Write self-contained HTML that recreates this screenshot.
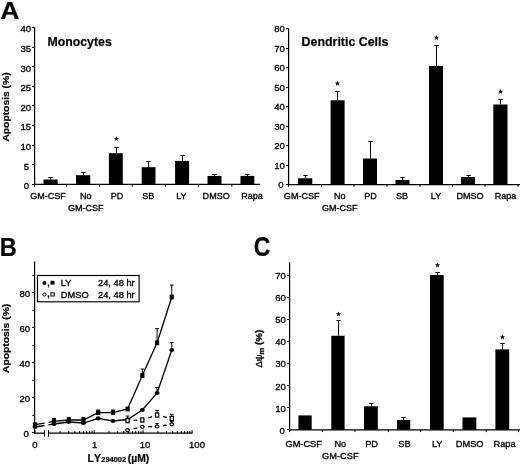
<!DOCTYPE html>
<html><head><meta charset="utf-8"><title>Figure</title>
<style>html,body{margin:0;padding:0;background:#fff;}svg{display:block;}text{font-family:"Liberation Sans",sans-serif;fill:#000;stroke:#000;stroke-width:0.32px;}text[font-weight=bold]{stroke-width:0.2px;}</style>
</head><body>
<svg width="520" height="465" viewBox="0 0 520 465">
<defs><filter id="soft" x="0" y="0" width="100%" height="100%" filterUnits="userSpaceOnUse"><feGaussianBlur stdDeviation="0.32"/></filter></defs>
<rect x="0" y="0" width="520" height="465" fill="#fff"/>
<g filter="url(#soft)">
<text transform="translate(0.2,18.5) scale(1.07,1)" font-size="24.8" font-weight="bold">A</text>
<line x1="34.6" y1="27.4" x2="34.6" y2="186.3" stroke="#000" stroke-width="1.2" />
<line x1="34.0" y1="184.3" x2="260" y2="184.3" stroke="#000" stroke-width="1.3" />
<line x1="32.1" y1="184.5" x2="34.5" y2="184.5" stroke="#000" stroke-width="1" />
<text x="29.2" y="189.10000000000002" font-size="9.6" text-anchor="end" font-weight="normal" >0</text>
<line x1="32.1" y1="164.5" x2="34.5" y2="164.5" stroke="#000" stroke-width="1" />
<text x="29.2" y="169.50000000000003" font-size="9.6" text-anchor="end" font-weight="normal" >5</text>
<line x1="32.1" y1="145.5" x2="34.5" y2="145.5" stroke="#000" stroke-width="1" />
<text x="31.2" y="149.90000000000003" font-size="9.6" text-anchor="end" font-weight="normal" >10</text>
<line x1="32.1" y1="125.5" x2="34.5" y2="125.5" stroke="#000" stroke-width="1" />
<text x="31.2" y="130.3" font-size="9.6" text-anchor="end" font-weight="normal" >15</text>
<line x1="32.1" y1="105.5" x2="34.5" y2="105.5" stroke="#000" stroke-width="1" />
<text x="31.2" y="110.7" font-size="9.6" text-anchor="end" font-weight="normal" >20</text>
<line x1="32.1" y1="86.5" x2="34.5" y2="86.5" stroke="#000" stroke-width="1" />
<text x="31.2" y="91.10000000000001" font-size="9.6" text-anchor="end" font-weight="normal" >25</text>
<line x1="32.1" y1="66.5" x2="34.5" y2="66.5" stroke="#000" stroke-width="1" />
<text x="31.2" y="71.5" font-size="9.6" text-anchor="end" font-weight="normal" >30</text>
<line x1="32.1" y1="47.5" x2="34.5" y2="47.5" stroke="#000" stroke-width="1" />
<text x="31.2" y="51.89999999999999" font-size="9.6" text-anchor="end" font-weight="normal" >35</text>
<line x1="32.1" y1="27.5" x2="34.5" y2="27.5" stroke="#000" stroke-width="1" />
<text x="31.2" y="32.3" font-size="9.6" text-anchor="end" font-weight="normal" >40</text>
<line x1="34.5" y1="184.3" x2="34.5" y2="186.60000000000002" stroke="#000" stroke-width="1" />
<line x1="66.7" y1="184.3" x2="66.7" y2="186.60000000000002" stroke="#000" stroke-width="1" />
<line x1="99.4" y1="184.3" x2="99.4" y2="186.60000000000002" stroke="#000" stroke-width="1" />
<line x1="132.2" y1="184.3" x2="132.2" y2="186.60000000000002" stroke="#000" stroke-width="1" />
<line x1="165.3" y1="184.3" x2="165.3" y2="186.60000000000002" stroke="#000" stroke-width="1" />
<line x1="198.5" y1="184.3" x2="198.5" y2="186.60000000000002" stroke="#000" stroke-width="1" />
<line x1="231.8" y1="184.3" x2="231.8" y2="186.60000000000002" stroke="#000" stroke-width="1" />
<rect x="43.5" y="179.5" width="14.100000000000001" height="4.800000000000011" fill="#000" />
<line x1="50.5" y1="177.5" x2="50.5" y2="179.5" stroke="#000" stroke-width="1" />
<line x1="48.3" y1="177.5" x2="52.7" y2="177.5" stroke="#000" stroke-width="1" />
<rect x="76" y="175.2" width="14.200000000000003" height="9.100000000000023" fill="#000" />
<line x1="83.5" y1="172.5" x2="83.5" y2="175.2" stroke="#000" stroke-width="1" />
<line x1="81.3" y1="172.5" x2="85.7" y2="172.5" stroke="#000" stroke-width="1" />
<rect x="108.9" y="153.2" width="13.899999999999991" height="31.100000000000023" fill="#000" />
<line x1="116.5" y1="147.5" x2="116.5" y2="153.2" stroke="#000" stroke-width="1" />
<line x1="114.3" y1="147.5" x2="118.7" y2="147.5" stroke="#000" stroke-width="1" />
<polygon points="116.50,136.10 117.18,137.87 119.07,137.97 117.59,139.16 118.09,140.98 116.50,139.95 114.91,140.98 115.41,139.16 113.93,137.97 115.82,137.87" fill="#000"/>
<rect x="141.7" y="167.2" width="13.800000000000011" height="17.100000000000023" fill="#000" />
<line x1="148.5" y1="161.5" x2="148.5" y2="167.2" stroke="#000" stroke-width="1" />
<line x1="146.3" y1="161.5" x2="150.7" y2="161.5" stroke="#000" stroke-width="1" />
<rect x="175.1" y="160.9" width="14.0" height="23.400000000000006" fill="#000" />
<line x1="182.5" y1="155.5" x2="182.5" y2="160.9" stroke="#000" stroke-width="1" />
<line x1="180.3" y1="155.5" x2="184.7" y2="155.5" stroke="#000" stroke-width="1" />
<rect x="207.5" y="175.9" width="14.0" height="8.400000000000006" fill="#000" />
<line x1="214.5" y1="174.5" x2="214.5" y2="175.9" stroke="#000" stroke-width="1" />
<line x1="212.3" y1="174.5" x2="216.7" y2="174.5" stroke="#000" stroke-width="1" />
<rect x="240.5" y="175.9" width="13.800000000000011" height="8.400000000000006" fill="#000" />
<line x1="247.5" y1="174.5" x2="247.5" y2="175.9" stroke="#000" stroke-width="1" />
<line x1="245.3" y1="174.5" x2="249.7" y2="174.5" stroke="#000" stroke-width="1" />
<text x="48" y="199" font-size="9.05" text-anchor="middle" font-weight="normal" >GM-CSF</text>
<text x="85.8" y="199" font-size="9.05" text-anchor="middle" font-weight="normal" >No</text>
<text x="85.8" y="210.8" font-size="9.05" text-anchor="middle" font-weight="normal" >GM-CSF</text>
<text x="117" y="199" font-size="9.05" text-anchor="middle" font-weight="normal" >PD</text>
<text x="148.3" y="199" font-size="9.05" text-anchor="middle" font-weight="normal" >SB</text>
<text x="181.4" y="199" font-size="9.05" text-anchor="middle" font-weight="normal" >LY</text>
<text x="216.2" y="199" font-size="9.05" text-anchor="middle" font-weight="normal" >DMSO</text>
<text x="252" y="199" font-size="9.05" text-anchor="middle" font-weight="normal" >Rapa</text>
<text x="47.5" y="45.6" font-size="12.3" text-anchor="start" font-weight="bold" >Monocytes</text>
<text transform="translate(9.4,107) rotate(-90) scale(1.214,1)" font-size="8.5" text-anchor="middle" font-weight="bold">Apoptosis (%)</text>
<line x1="288.6" y1="28.6" x2="288.6" y2="186.6" stroke="#000" stroke-width="1.2" />
<line x1="288.0" y1="184.6" x2="520" y2="184.6" stroke="#000" stroke-width="1.3" />
<line x1="286.1" y1="184.5" x2="288.5" y2="184.5" stroke="#000" stroke-width="1" />
<text x="283.5" y="188.2" font-size="9.6" text-anchor="end" font-weight="normal" >0</text>
<line x1="286.1" y1="165.5" x2="288.5" y2="165.5" stroke="#000" stroke-width="1" />
<text x="284.8" y="168.7" font-size="9.6" text-anchor="end" font-weight="normal" >10</text>
<line x1="286.1" y1="145.5" x2="288.5" y2="145.5" stroke="#000" stroke-width="1" />
<text x="284.8" y="149.2" font-size="9.6" text-anchor="end" font-weight="normal" >20</text>
<line x1="286.1" y1="126.5" x2="288.5" y2="126.5" stroke="#000" stroke-width="1" />
<text x="284.8" y="129.7" font-size="9.6" text-anchor="end" font-weight="normal" >30</text>
<line x1="286.1" y1="106.5" x2="288.5" y2="106.5" stroke="#000" stroke-width="1" />
<text x="284.8" y="110.19999999999999" font-size="9.6" text-anchor="end" font-weight="normal" >40</text>
<line x1="286.1" y1="87.5" x2="288.5" y2="87.5" stroke="#000" stroke-width="1" />
<text x="284.8" y="90.69999999999999" font-size="9.6" text-anchor="end" font-weight="normal" >50</text>
<line x1="286.1" y1="67.5" x2="288.5" y2="67.5" stroke="#000" stroke-width="1" />
<text x="284.8" y="71.19999999999999" font-size="9.6" text-anchor="end" font-weight="normal" >60</text>
<line x1="286.1" y1="48.5" x2="288.5" y2="48.5" stroke="#000" stroke-width="1" />
<text x="284.8" y="51.699999999999996" font-size="9.6" text-anchor="end" font-weight="normal" >70</text>
<line x1="286.1" y1="28.5" x2="288.5" y2="28.5" stroke="#000" stroke-width="1" />
<text x="284.8" y="32.199999999999996" font-size="9.6" text-anchor="end" font-weight="normal" >80</text>
<line x1="288.5" y1="184.6" x2="288.5" y2="186.9" stroke="#000" stroke-width="1" />
<line x1="321.5" y1="184.6" x2="321.5" y2="186.9" stroke="#000" stroke-width="1" />
<line x1="354" y1="184.6" x2="354" y2="186.9" stroke="#000" stroke-width="1" />
<line x1="387" y1="184.6" x2="387" y2="186.9" stroke="#000" stroke-width="1" />
<line x1="420" y1="184.6" x2="420" y2="186.9" stroke="#000" stroke-width="1" />
<line x1="452.5" y1="184.6" x2="452.5" y2="186.9" stroke="#000" stroke-width="1" />
<line x1="485" y1="184.6" x2="485" y2="186.9" stroke="#000" stroke-width="1" />
<line x1="518" y1="184.6" x2="518" y2="186.9" stroke="#000" stroke-width="1" />
<rect x="298" y="178.3" width="14.300000000000011" height="6.299999999999983" fill="#000" />
<line x1="305.5" y1="175.5" x2="305.5" y2="178.3" stroke="#000" stroke-width="1" />
<line x1="303.3" y1="175.5" x2="307.7" y2="175.5" stroke="#000" stroke-width="1" />
<rect x="330.6" y="100.3" width="14.0" height="84.3" fill="#000" />
<line x1="337.5" y1="91.5" x2="337.5" y2="100.3" stroke="#000" stroke-width="1" />
<line x1="335.3" y1="91.5" x2="339.7" y2="91.5" stroke="#000" stroke-width="1" />
<polygon points="337.50,80.80 338.18,82.57 340.07,82.67 338.59,83.86 339.09,85.68 337.50,84.65 335.91,85.68 336.41,83.86 334.93,82.67 336.82,82.57" fill="#000"/>
<rect x="363" y="158.5" width="14" height="26.099999999999994" fill="#000" />
<line x1="370.5" y1="141.5" x2="370.5" y2="158.5" stroke="#000" stroke-width="1" />
<line x1="368.3" y1="141.5" x2="372.7" y2="141.5" stroke="#000" stroke-width="1" />
<rect x="395.5" y="180" width="14.0" height="4.599999999999994" fill="#000" />
<line x1="402.5" y1="177.5" x2="402.5" y2="180" stroke="#000" stroke-width="1" />
<line x1="400.3" y1="177.5" x2="404.7" y2="177.5" stroke="#000" stroke-width="1" />
<rect x="429" y="66" width="14" height="118.6" fill="#000" />
<line x1="436.5" y1="45.5" x2="436.5" y2="66" stroke="#000" stroke-width="1" />
<line x1="434.3" y1="45.5" x2="438.7" y2="45.5" stroke="#000" stroke-width="1" />
<polygon points="436.50,35.00 437.18,36.77 439.07,36.87 437.59,38.06 438.09,39.88 436.50,38.85 434.91,39.88 435.41,38.06 433.93,36.87 435.82,36.77" fill="#000"/>
<rect x="461" y="177" width="14" height="7.599999999999994" fill="#000" />
<line x1="468.5" y1="175.5" x2="468.5" y2="177" stroke="#000" stroke-width="1" />
<line x1="466.3" y1="175.5" x2="470.7" y2="175.5" stroke="#000" stroke-width="1" />
<rect x="493.3" y="104.5" width="14.199999999999989" height="80.1" fill="#000" />
<line x1="500.5" y1="99.5" x2="500.5" y2="104.5" stroke="#000" stroke-width="1" />
<line x1="498.3" y1="99.5" x2="502.7" y2="99.5" stroke="#000" stroke-width="1" />
<polygon points="500.50,89.00 501.18,90.77 503.07,90.87 501.59,92.06 502.09,93.88 500.50,92.85 498.91,93.88 499.41,92.06 497.93,90.87 499.82,90.77" fill="#000"/>
<text x="301.7" y="199" font-size="9.05" text-anchor="middle" font-weight="normal" >GM-CSF</text>
<text x="339.8" y="199" font-size="9.05" text-anchor="middle" font-weight="normal" >No</text>
<text x="339.8" y="210.8" font-size="9.05" text-anchor="middle" font-weight="normal" >GM-CSF</text>
<text x="370.6" y="199" font-size="9.05" text-anchor="middle" font-weight="normal" >PD</text>
<text x="402" y="199" font-size="9.05" text-anchor="middle" font-weight="normal" >SB</text>
<text x="436" y="199" font-size="9.05" text-anchor="middle" font-weight="normal" >LY</text>
<text x="470" y="199" font-size="9.05" text-anchor="middle" font-weight="normal" >DMSO</text>
<text x="505.5" y="199" font-size="9.05" text-anchor="middle" font-weight="normal" >Rapa</text>
<text x="301.6" y="45.5" font-size="12.4" text-anchor="start" font-weight="bold" >Dendritic Cells</text>
<text transform="translate(253.8,255.9) scale(0.9,1.05)" font-size="25.5" font-weight="bold">C</text>
<line x1="289.6" y1="262.2" x2="289.6" y2="431.8" stroke="#000" stroke-width="1.2" />
<line x1="289.0" y1="429.8" x2="520" y2="429.8" stroke="#000" stroke-width="1.3" />
<line x1="287.1" y1="429.5" x2="289.5" y2="429.5" stroke="#000" stroke-width="1" />
<text x="284.8" y="433.6" font-size="9.6" text-anchor="end" font-weight="normal" >0</text>
<line x1="287.1" y1="407.5" x2="289.5" y2="407.5" stroke="#000" stroke-width="1" />
<text x="285.8" y="411.55" font-size="9.6" text-anchor="end" font-weight="normal" >10</text>
<line x1="287.1" y1="385.5" x2="289.5" y2="385.5" stroke="#000" stroke-width="1" />
<text x="285.8" y="389.5" font-size="9.6" text-anchor="end" font-weight="normal" >20</text>
<line x1="287.1" y1="363.5" x2="289.5" y2="363.5" stroke="#000" stroke-width="1" />
<text x="285.8" y="367.45" font-size="9.6" text-anchor="end" font-weight="normal" >30</text>
<line x1="287.1" y1="341.5" x2="289.5" y2="341.5" stroke="#000" stroke-width="1" />
<text x="285.8" y="345.40000000000003" font-size="9.6" text-anchor="end" font-weight="normal" >40</text>
<line x1="287.1" y1="319.5" x2="289.5" y2="319.5" stroke="#000" stroke-width="1" />
<text x="285.8" y="323.35" font-size="9.6" text-anchor="end" font-weight="normal" >50</text>
<line x1="287.1" y1="297.5" x2="289.5" y2="297.5" stroke="#000" stroke-width="1" />
<text x="285.8" y="301.3" font-size="9.6" text-anchor="end" font-weight="normal" >60</text>
<line x1="287.1" y1="275.5" x2="289.5" y2="275.5" stroke="#000" stroke-width="1" />
<text x="285.8" y="279.25000000000006" font-size="9.6" text-anchor="end" font-weight="normal" >70</text>
<line x1="289.5" y1="429.8" x2="289.5" y2="432.1" stroke="#000" stroke-width="1" />
<line x1="322.3" y1="429.8" x2="322.3" y2="432.1" stroke="#000" stroke-width="1" />
<line x1="355" y1="429.8" x2="355" y2="432.1" stroke="#000" stroke-width="1" />
<line x1="388.3" y1="429.8" x2="388.3" y2="432.1" stroke="#000" stroke-width="1" />
<line x1="420.6" y1="429.8" x2="420.6" y2="432.1" stroke="#000" stroke-width="1" />
<line x1="453.2" y1="429.8" x2="453.2" y2="432.1" stroke="#000" stroke-width="1" />
<line x1="486.2" y1="429.8" x2="486.2" y2="432.1" stroke="#000" stroke-width="1" />
<line x1="518.5" y1="429.8" x2="518.5" y2="432.1" stroke="#000" stroke-width="1" />
<rect x="298.4" y="415.4" width="13.300000000000011" height="14.400000000000034" fill="#000" />
<rect x="331.3" y="335.75" width="13.300000000000011" height="94.05000000000001" fill="#000" />
<line x1="338.5" y1="320.5" x2="338.5" y2="335.75" stroke="#000" stroke-width="1" />
<line x1="336.3" y1="320.5" x2="340.7" y2="320.5" stroke="#000" stroke-width="1" />
<polygon points="338.50,311.50 339.18,313.27 341.07,313.37 339.59,314.56 340.09,316.38 338.50,315.35 336.91,316.38 337.41,314.56 335.93,313.37 337.82,313.27" fill="#000"/>
<rect x="364" y="406.3" width="13.800000000000011" height="23.5" fill="#000" />
<line x1="371.5" y1="403.5" x2="371.5" y2="406.3" stroke="#000" stroke-width="1" />
<line x1="369.3" y1="403.5" x2="373.7" y2="403.5" stroke="#000" stroke-width="1" />
<rect x="397" y="420" width="13.199999999999989" height="9.800000000000011" fill="#000" />
<line x1="403.5" y1="417.5" x2="403.5" y2="420" stroke="#000" stroke-width="1" />
<line x1="401.3" y1="417.5" x2="405.7" y2="417.5" stroke="#000" stroke-width="1" />
<rect x="430" y="275" width="13.699999999999989" height="154.8" fill="#000" />
<line x1="437.5" y1="272.5" x2="437.5" y2="275" stroke="#000" stroke-width="1" />
<line x1="435.3" y1="272.5" x2="439.7" y2="272.5" stroke="#000" stroke-width="1" />
<polygon points="437.50,262.50 438.18,264.27 440.07,264.37 438.59,265.56 439.09,267.38 437.50,266.35 435.91,267.38 436.41,265.56 434.93,264.37 436.82,264.27" fill="#000"/>
<rect x="462.5" y="417.4" width="13.800000000000011" height="12.400000000000034" fill="#000" />
<rect x="495.4" y="349.4" width="13.800000000000011" height="80.40000000000003" fill="#000" />
<line x1="502.5" y1="343.5" x2="502.5" y2="349.4" stroke="#000" stroke-width="1" />
<line x1="500.3" y1="343.5" x2="504.7" y2="343.5" stroke="#000" stroke-width="1" />
<polygon points="502.50,334.50 503.18,336.27 505.07,336.37 503.59,337.56 504.09,339.38 502.50,338.35 500.91,339.38 501.41,337.56 499.93,336.37 501.82,336.27" fill="#000"/>
<text x="303.7" y="447.1" font-size="9.25" text-anchor="middle" font-weight="normal" >GM-CSF</text>
<text x="340.3" y="447.1" font-size="9.25" text-anchor="middle" font-weight="normal" >No</text>
<text x="340.3" y="459.1" font-size="9.25" text-anchor="middle" font-weight="normal" >GM-CSF</text>
<text x="371.6" y="447.1" font-size="9.25" text-anchor="middle" font-weight="normal" >PD</text>
<text x="404.5" y="447.1" font-size="9.25" text-anchor="middle" font-weight="normal" >SB</text>
<text x="437.2" y="447.1" font-size="9.25" text-anchor="middle" font-weight="normal" >LY</text>
<text x="469.7" y="447.1" font-size="9.25" text-anchor="middle" font-weight="normal" >DMSO</text>
<text x="504.6" y="447.1" font-size="9.25" text-anchor="middle" font-weight="normal" >Rapa</text>
<text transform="translate(261.6,348.7) rotate(-90)" font-size="9.5" text-anchor="middle">&#916;&#968;<tspan font-size="7.5" dy="2.2" font-weight="bold">m</tspan><tspan dy="-2.2" font-weight="bold" font-size="9.8"> (%)</tspan></text>
<text transform="translate(-0.2,255.8) scale(0.925,1.035)" font-size="25.5" font-weight="bold">B</text>
<line x1="34.6" y1="261.5" x2="34.6" y2="433.7" stroke="#000" stroke-width="1.2" />
<line x1="32.1" y1="432.5" x2="34.5" y2="432.5" stroke="#000" stroke-width="1" />
<text x="28.900000000000002" y="437.1" font-size="9.6" text-anchor="end" font-weight="normal" >0</text>
<line x1="32.3" y1="415.5" x2="34.5" y2="415.5" stroke="#000" stroke-width="1" />
<line x1="32.1" y1="397.5" x2="34.5" y2="397.5" stroke="#000" stroke-width="1" />
<text x="30.1" y="402.175" font-size="9.6" text-anchor="end" font-weight="normal" >20</text>
<line x1="32.3" y1="380.5" x2="34.5" y2="380.5" stroke="#000" stroke-width="1" />
<line x1="32.1" y1="362.5" x2="34.5" y2="362.5" stroke="#000" stroke-width="1" />
<text x="30.1" y="367.25" font-size="9.6" text-anchor="end" font-weight="normal" >40</text>
<line x1="32.3" y1="345.5" x2="34.5" y2="345.5" stroke="#000" stroke-width="1" />
<line x1="32.1" y1="327.5" x2="34.5" y2="327.5" stroke="#000" stroke-width="1" />
<text x="30.1" y="332.325" font-size="9.6" text-anchor="end" font-weight="normal" >60</text>
<line x1="32.3" y1="310.5" x2="34.5" y2="310.5" stroke="#000" stroke-width="1" />
<line x1="32.1" y1="292.5" x2="34.5" y2="292.5" stroke="#000" stroke-width="1" />
<text x="30.1" y="297.4" font-size="9.6" text-anchor="end" font-weight="normal" >80</text>
<line x1="32.3" y1="275.5" x2="34.5" y2="275.5" stroke="#000" stroke-width="1" />
<line x1="34.0" y1="433.2" x2="44.5" y2="433.2" stroke="#000" stroke-width="1.3" />
<line x1="48.5" y1="433.2" x2="192.5" y2="433.2" stroke="#000" stroke-width="1.3" />
<line x1="44.5" y1="430.2" x2="44.5" y2="436.7" stroke="#000" stroke-width="1" />
<line x1="48.5" y1="430.2" x2="48.5" y2="436.7" stroke="#000" stroke-width="1" />
<line x1="60.120366787968685" y1="431.0" x2="60.120366787968685" y2="433.2" stroke="#000" stroke-width="1" />
<line x1="68.7312293557915" y1="431.0" x2="68.7312293557915" y2="433.2" stroke="#000" stroke-width="1" />
<line x1="74.84073357593736" y1="431.0" x2="74.84073357593736" y2="433.2" stroke="#000" stroke-width="1" />
<line x1="79.57963321203131" y1="431.0" x2="79.57963321203131" y2="433.2" stroke="#000" stroke-width="1" />
<line x1="83.45159614376017" y1="431.0" x2="83.45159614376017" y2="433.2" stroke="#000" stroke-width="1" />
<line x1="86.72529415669716" y1="431.0" x2="86.72529415669716" y2="433.2" stroke="#000" stroke-width="1" />
<line x1="89.56110036390604" y1="431.0" x2="89.56110036390604" y2="433.2" stroke="#000" stroke-width="1" />
<line x1="92.06245871158299" y1="431.0" x2="92.06245871158299" y2="433.2" stroke="#000" stroke-width="1" />
<line x1="94.3" y1="430.2" x2="94.3" y2="433.2" stroke="#000" stroke-width="1" />
<line x1="109.02036678796868" y1="431.0" x2="109.02036678796868" y2="433.2" stroke="#000" stroke-width="1" />
<line x1="117.63122935579149" y1="431.0" x2="117.63122935579149" y2="433.2" stroke="#000" stroke-width="1" />
<line x1="123.74073357593736" y1="431.0" x2="123.74073357593736" y2="433.2" stroke="#000" stroke-width="1" />
<line x1="128.47963321203133" y1="431.0" x2="128.47963321203133" y2="433.2" stroke="#000" stroke-width="1" />
<line x1="132.35159614376016" y1="431.0" x2="132.35159614376016" y2="433.2" stroke="#000" stroke-width="1" />
<line x1="135.62529415669715" y1="431.0" x2="135.62529415669715" y2="433.2" stroke="#000" stroke-width="1" />
<line x1="138.46110036390604" y1="431.0" x2="138.46110036390604" y2="433.2" stroke="#000" stroke-width="1" />
<line x1="140.962458711583" y1="431.0" x2="140.962458711583" y2="433.2" stroke="#000" stroke-width="1" />
<line x1="143.2" y1="430.2" x2="143.2" y2="433.2" stroke="#000" stroke-width="1" />
<line x1="157.92036678796867" y1="431.0" x2="157.92036678796867" y2="433.2" stroke="#000" stroke-width="1" />
<line x1="166.53122935579148" y1="431.0" x2="166.53122935579148" y2="433.2" stroke="#000" stroke-width="1" />
<line x1="172.64073357593736" y1="431.0" x2="172.64073357593736" y2="433.2" stroke="#000" stroke-width="1" />
<line x1="177.3796332120313" y1="431.0" x2="177.3796332120313" y2="433.2" stroke="#000" stroke-width="1" />
<line x1="181.25159614376017" y1="431.0" x2="181.25159614376017" y2="433.2" stroke="#000" stroke-width="1" />
<line x1="184.52529415669716" y1="431.0" x2="184.52529415669716" y2="433.2" stroke="#000" stroke-width="1" />
<line x1="187.36110036390602" y1="431.0" x2="187.36110036390602" y2="433.2" stroke="#000" stroke-width="1" />
<line x1="189.86245871158297" y1="431.0" x2="189.86245871158297" y2="433.2" stroke="#000" stroke-width="1" />
<line x1="192.1" y1="430.2" x2="192.1" y2="433.2" stroke="#000" stroke-width="1" />
<line x1="35" y1="430.2" x2="35" y2="433.2" stroke="#000" stroke-width="0.8" />
<text x="35" y="447.6" font-size="9.6" text-anchor="middle" font-weight="normal" >0</text>
<text x="94.6" y="447.6" font-size="9.6" text-anchor="middle" font-weight="normal" >1</text>
<text x="145" y="447.6" font-size="9.6" text-anchor="middle" font-weight="normal" >10</text>
<text x="197" y="447.6" font-size="9.6" text-anchor="middle" font-weight="normal" >100</text>
<text x="87.6" y="461.6" font-size="10.4" font-weight="bold" text-anchor="start"><tspan letter-spacing="1">LY</tspan><tspan font-size="7.4" dx="-0.6">294002</tspan><tspan dx="-1.2"> (&#181;M)</tspan></text>
<text transform="translate(9.4,338.4) rotate(-90) scale(1.214,1)" font-size="8.5" text-anchor="middle" font-weight="bold">Apoptosis (%)</text>
<rect x="37.5" y="275.5" width="101.6" height="26.3" fill="#fff" stroke="#000" stroke-width="1.15"/>
<circle cx="44.4" cy="283" r="2" fill="#000"/>
<text x="47.3" y="285.8" font-size="9" text-anchor="start" font-weight="bold" >,</text>
<rect x="50.5" y="280.8" width="4" height="3.8" fill="#000" />
<circle cx="44.4" cy="294.5" r="1.6" fill="#fff" stroke="#000" stroke-width="1"/>
<text x="47.3" y="297.3" font-size="9" text-anchor="start" font-weight="bold" >,</text>
<rect x="50.9" y="292.8" width="3.3" height="3.2" fill="#fff" stroke="#000" stroke-width="1"/>
<text x="60.8" y="285.9" font-size="9.3" text-anchor="start" font-weight="normal" >LY</text>
<text x="60.8" y="298" font-size="9.3" text-anchor="start" font-weight="normal" >DMSO</text>
<text x="98" y="285.9" font-size="9.3" text-anchor="start" font-weight="normal" >24, 48 hr</text>
<text x="98" y="298" font-size="9.3" text-anchor="start" font-weight="normal" >24, 48 hr</text>
<line x1="35" y1="424.7" x2="44.5" y2="423.05094278925236" stroke="#000" stroke-width="1.3" />
<line x1="48.5" y1="422.35660291104284" x2="54.01086256782281" y2="421.4" stroke="#000" stroke-width="1.3" />
<polyline points="54.0,421.4 68.7,420.0 83.5,420.0 98.2,412.6 112.9,412.6 127.6,409.0 142.3,375.5 157.1,342.8 171.8,297.0" fill="none" stroke="#000" stroke-width="1.3"/>
<line x1="35" y1="427" x2="44.5" y2="425.5008570811385" stroke="#000" stroke-width="1.3" />
<line x1="48.5" y1="424.86963901003895" x2="54.01086256782281" y2="424" stroke="#000" stroke-width="1.3" />
<polyline points="54.0,424.0 68.7,422.0 83.5,423.0 98.2,418.4 112.9,421.0 127.6,419.5 142.3,410.0 157.1,393.0 171.8,350.0" fill="none" stroke="#000" stroke-width="1.3"/>
<line x1="54.01086256782281" y1="418.5" x2="54.01086256782281" y2="421.4" stroke="#000" stroke-width="1" />
<line x1="52.210862567822815" y1="418.5" x2="55.81086256782281" y2="418.5" stroke="#000" stroke-width="1" />
<line x1="68.73122935579148" y1="417.5" x2="68.73122935579148" y2="420" stroke="#000" stroke-width="1" />
<line x1="66.93122935579149" y1="417.5" x2="70.53122935579148" y2="417.5" stroke="#000" stroke-width="1" />
<line x1="83.45159614376017" y1="417.5" x2="83.45159614376017" y2="420" stroke="#000" stroke-width="1" />
<line x1="81.65159614376017" y1="417.5" x2="85.25159614376017" y2="417.5" stroke="#000" stroke-width="1" />
<line x1="98.17196293172886" y1="410" x2="98.17196293172886" y2="412.6" stroke="#000" stroke-width="1" />
<line x1="96.37196293172886" y1="410" x2="99.97196293172885" y2="410" stroke="#000" stroke-width="1" />
<line x1="112.89232971969753" y1="410" x2="112.89232971969753" y2="412.6" stroke="#000" stroke-width="1" />
<line x1="111.09232971969753" y1="410" x2="114.69232971969753" y2="410" stroke="#000" stroke-width="1" />
<line x1="142.3330632956349" y1="369" x2="142.3330632956349" y2="375.5" stroke="#000" stroke-width="1" />
<line x1="140.5330632956349" y1="369" x2="144.1330632956349" y2="369" stroke="#000" stroke-width="1" />
<line x1="157.0534300836036" y1="328.6" x2="157.0534300836036" y2="342.8" stroke="#000" stroke-width="1" />
<line x1="155.25343008360358" y1="328.6" x2="158.8534300836036" y2="328.6" stroke="#000" stroke-width="1" />
<line x1="171.77379687157224" y1="285" x2="171.77379687157224" y2="297" stroke="#000" stroke-width="1" />
<line x1="169.97379687157223" y1="285" x2="173.57379687157226" y2="285" stroke="#000" stroke-width="1" />
<line x1="127.61269650766621" y1="416" x2="127.61269650766621" y2="419.5" stroke="#000" stroke-width="1" />
<line x1="125.81269650766622" y1="416" x2="129.41269650766623" y2="416" stroke="#000" stroke-width="1" />
<line x1="157.0534300836036" y1="387.5" x2="157.0534300836036" y2="393" stroke="#000" stroke-width="1" />
<line x1="155.25343008360358" y1="387.5" x2="158.8534300836036" y2="387.5" stroke="#000" stroke-width="1" />
<line x1="171.77379687157224" y1="342.5" x2="171.77379687157224" y2="350" stroke="#000" stroke-width="1" />
<line x1="169.97379687157223" y1="342.5" x2="173.57379687157226" y2="342.5" stroke="#000" stroke-width="1" />
<rect x="32.9" y="422.3" width="4.2" height="4.8" fill="#000" />
<rect x="51.91086256782281" y="419.0" width="4.2" height="4.8" fill="#000" />
<rect x="66.63122935579149" y="417.6" width="4.2" height="4.8" fill="#000" />
<rect x="81.35159614376018" y="417.6" width="4.2" height="4.8" fill="#000" />
<rect x="96.07196293172886" y="410.20000000000005" width="4.2" height="4.8" fill="#000" />
<rect x="110.79232971969753" y="410.20000000000005" width="4.2" height="4.8" fill="#000" />
<rect x="125.51269650766622" y="406.6" width="4.2" height="4.8" fill="#000" />
<rect x="140.2330632956349" y="373.1" width="4.2" height="4.8" fill="#000" />
<rect x="154.9534300836036" y="340.40000000000003" width="4.2" height="4.8" fill="#000" />
<rect x="169.67379687157225" y="294.6" width="4.2" height="4.8" fill="#000" />
<ellipse cx="35.0" cy="427" rx="2.5" ry="2.1" fill="#000"/>
<ellipse cx="54.0" cy="424" rx="2.5" ry="2.1" fill="#000"/>
<ellipse cx="68.7" cy="422" rx="2.5" ry="2.1" fill="#000"/>
<ellipse cx="83.5" cy="423" rx="2.5" ry="2.1" fill="#000"/>
<ellipse cx="98.2" cy="418.4" rx="2.5" ry="2.1" fill="#000"/>
<ellipse cx="112.9" cy="421" rx="2.5" ry="2.1" fill="#000"/>
<ellipse cx="127.6" cy="419.5" rx="2.5" ry="2.1" fill="#000"/>
<ellipse cx="142.3" cy="410" rx="2.5" ry="2.1" fill="#000"/>
<ellipse cx="157.1" cy="393" rx="2.5" ry="2.1" fill="#000"/>
<ellipse cx="171.8" cy="350" rx="2.5" ry="2.1" fill="#000"/>
<line x1="133.5" y1="420.36" x2="137.33" y2="420.2" stroke="#000" stroke-width="1.25" />
<line x1="148.22" y1="418.0" x2="152.05" y2="416.7" stroke="#000" stroke-width="1.25" />
<line x1="162.94" y1="416.4" x2="166.77" y2="417.31" stroke="#000" stroke-width="1.25" />
<line x1="133.5" y1="428.84" x2="137.33" y2="427.96" stroke="#000" stroke-width="1.25" />
<line x1="148.22" y1="426.68" x2="152.05" y2="426.6" stroke="#000" stroke-width="1.25" />
<line x1="162.94" y1="425.62" x2="166.77" y2="425.05" stroke="#000" stroke-width="1.25" />
<line x1="157.0534300836036" y1="410.4" x2="157.0534300836036" y2="415" stroke="#000" stroke-width="1" />
<line x1="155.25343008360358" y1="410.4" x2="158.8534300836036" y2="410.4" stroke="#000" stroke-width="1" />
<line x1="171.77379687157224" y1="414.3" x2="171.77379687157224" y2="418.5" stroke="#000" stroke-width="1" />
<line x1="169.97379687157223" y1="414.3" x2="173.57379687157226" y2="414.3" stroke="#000" stroke-width="1" />
<line x1="157.0534300836036" y1="423.6" x2="157.0534300836036" y2="426.5" stroke="#000" stroke-width="1" />
<line x1="155.25343008360358" y1="423.6" x2="158.8534300836036" y2="423.6" stroke="#000" stroke-width="1" />
<line x1="171.77379687157224" y1="421.6" x2="171.77379687157224" y2="424.3" stroke="#000" stroke-width="1" />
<line x1="169.97379687157223" y1="421.6" x2="173.57379687157226" y2="421.6" stroke="#000" stroke-width="1" />
<rect x="126.0" y="418.5" width="3.2" height="4.2" fill="#fff" stroke="#000" stroke-width="1.2"/>
<rect x="140.7" y="417.9" width="3.2" height="4.2" fill="#fff" stroke="#000" stroke-width="1.2"/>
<rect x="155.5" y="412.9" width="3.2" height="4.2" fill="#fff" stroke="#000" stroke-width="1.2"/>
<rect x="170.2" y="416.4" width="3.2" height="4.2" fill="#fff" stroke="#000" stroke-width="1.2"/>
<ellipse cx="127.6" cy="430.2" rx="1.8" ry="1.5" fill="#fff" stroke="#000" stroke-width="1.2"/>
<ellipse cx="142.3" cy="426.8" rx="1.8" ry="1.5" fill="#fff" stroke="#000" stroke-width="1.2"/>
<ellipse cx="157.1" cy="426.5" rx="1.8" ry="1.5" fill="#fff" stroke="#000" stroke-width="1.2"/>
<ellipse cx="171.8" cy="424.3" rx="1.8" ry="1.5" fill="#fff" stroke="#000" stroke-width="1.2"/>
</g>
</svg>
</body></html>
